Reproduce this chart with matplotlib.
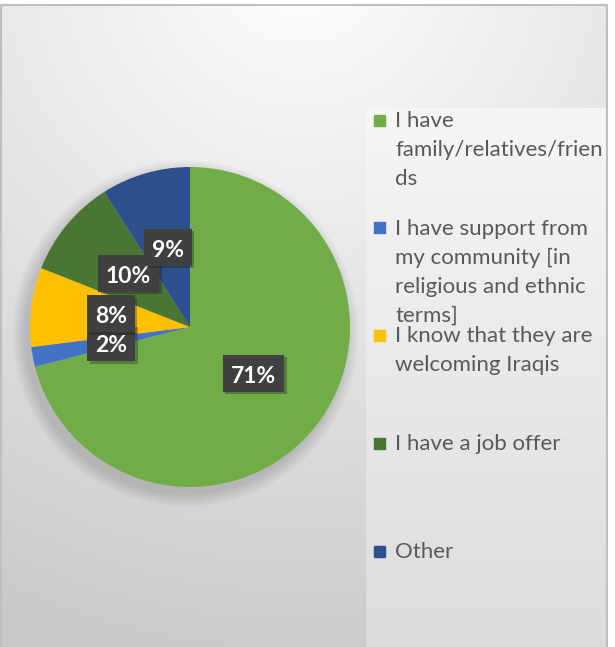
import numpy as np
import matplotlib
matplotlib.use("Agg")
import matplotlib.pyplot as plt
from matplotlib.patches import Rectangle
import matplotlib.patheffects as pe

# reasons for choosing the destination country (share of respondents, %)
categories = [
    "I have\nfamily/relatives/frien\nds",
    "I have support from\nmy community [in\nreligious and ethnic\nterms]",
    "I know that they are\nwelcoming Iraqis",
    "I have a job offer",
    "Other",
]
shares = [71, 2, 8, 10, 9]
colors = ["#70ad47", "#4472c4", "#ffc000", "#4a7532", "#2d4f8c"]

W, H = 615, 647
fig = plt.figure(figsize=(W / 100, H / 100), dpi=100)
plt.rcParams["font.family"] = ["Lato", "DejaVu Sans"]
plt.rcParams["hatch.color"] = "#4e4e4e"
plt.rcParams["hatch.linewidth"] = 1.0

# background in pixel coordinates (y down)
bg = fig.add_axes([0, 0, 1, 1], zorder=-2)
bg.set_xlim(0, W)
bg.set_ylim(H, 0)
bg.axis("off")

yy, xx = np.mgrid[0:H, 0:W]
d = np.hypot(xx - 300, yy + 40) / 720.0
shade = 1.0 - 0.21 * np.clip(d, 0, 1)
img = np.dstack([shade] * 3)
bg.imshow(img, extent=(0, W, H, 0), aspect="auto", interpolation="bilinear")

# soft shadow under the pie, falling down and to the left
cx, cy, R = 190, 327, 160
dist = np.hypot(xx - (cx - 5), yy - (cy + 6))
alpha = 0.16 * np.clip(1 - (dist - R) / 14.0, 0, 1)
shadow = np.zeros((H, W, 4))
shadow[..., 3] = alpha
bg.imshow(shadow, extent=(0, W, H, 0), aspect="auto", interpolation="bilinear")

# lighter panel behind the legend
py0 = 108
grad = np.linspace(0.965, 0.862, H - py0)[:, None] * np.ones((1, 240))
panel = np.dstack([grad] * 3)
bg.imshow(panel, extent=(366, 606, H, py0), aspect="auto", interpolation="bilinear")

# outer frame
bg.add_patch(Rectangle((0, 0), W, 4, color="white", zorder=5))
bg.add_patch(Rectangle((608, 0), 7, H, color="white", zorder=5))
bg.plot([1, 1, 607, 607], [H, 4.5, 4.5, H], color="#bfbfbf", lw=1.5, zorder=6)

# pie
ax = fig.add_axes([(cx - R) / W, (H - cy - R) / H, 2 * R / W, 2 * R / H])
wedges, _, autotexts = ax.pie(
    shares,
    colors=colors,
    startangle=90,
    counterclock=False,
    autopct="%.0f%%",
    pctdistance=0.5,
    wedgeprops=dict(linewidth=0),
)
ax.set_xlim(-1, 1)
ax.set_ylim(-1, 1)
for t in autotexts:
    t.set_color("white")
    t.set_fontsize(16.5)
    t.set_fontweight("bold")
# the thin slice's label would hide under its neighbour; push it down a bit
x2, y2 = autotexts[1].get_position()
autotexts[1].set_position((x2, y2 - 0.025))

# dark label boxes sized around each text; later labels sit on top
fig.canvas.draw()
renderer = fig.canvas.get_renderer()
inv = ax.transData.inverted()
for i, t in enumerate(autotexts):
    ext = t.get_window_extent(renderer)
    (x0, y0), (x1, y1) = inv.transform([(ext.x0 - 8, ext.y0 - 5),
                                        (ext.x1 + 8, ext.y1 + 11)])
    box = Rectangle((x0, y0), x1 - x0, y1 - y0, facecolor="#404040",
                    edgecolor="none", hatch="..", zorder=3 + 2 * i)
    box.set_path_effects([pe.SimplePatchShadow(offset=(2, -2), alpha=0.3),
                          pe.Normal()])
    ax.add_patch(box)
    t.set_zorder(4 + 2 * i)

# legend, placed by hand
tops = np.linspace(120, 551, len(categories))
for label, col, ty in zip(categories, colors, tops):
    bg.add_patch(Rectangle((374, ty - 5.5), 11, 11, color=col, zorder=7))
    bg.text(395, ty - 9, label, fontsize=16, color="#595959",
            va="top", ha="left", linespacing=1.56, zorder=7)

fig.savefig("out.png", dpi=100)
